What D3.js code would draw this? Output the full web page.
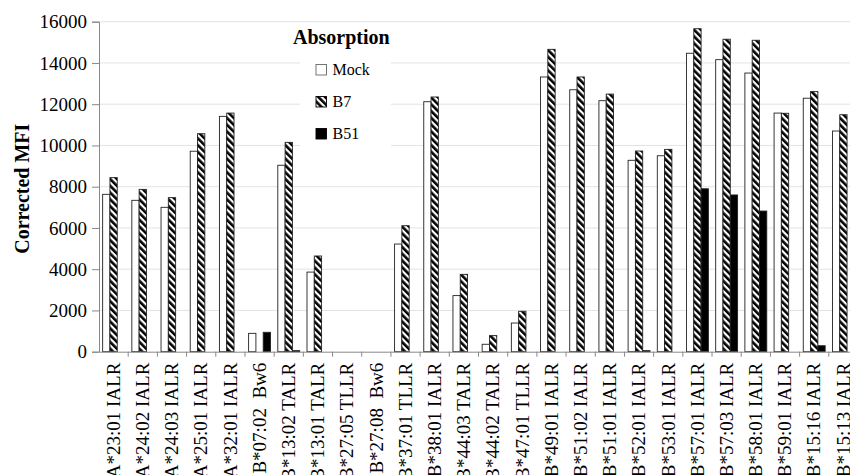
<!DOCTYPE html>
<html>
<head>
<meta charset="utf-8">
<script src="https://cdn.jsdelivr.net/npm/d3@7"></script>
<style>
  body { margin: 0; background: #fff; }
  svg { display: block; }
  svg text { font-family: "Liberation Serif", "Times New Roman", serif; }
</style>
</head>
<body>
<svg id="chart" width="850" height="475"></svg>
<script>
// Data
const categories = [
  "A*23:01 IALR", "A*24:02 IALR", "A*24:03 IALR", "A*25:01 IALR", "A*32:01 IALR",
  "B*07:02\u00a0\u00a0Bw6", "B*13:02 TALR", "B*13:01 TALR", "B*27:05 TLLR", "B*27:08\u00a0\u00a0Bw6",
  "B*37:01 TLLR", "B*38:01 IALR", "B*44:03 TALR", "B*44:02 TALR", "B*47:01 TLLR",
  "B*49:01 IALR", "B*51:02 IALR", "B*51:01 IALR", "B*52:01 IALR", "B*53:01 IALR",
  "B*57:01 IALR", "B*57:03 IALR", "B*58:01 IALR", "B*59:01 IALR", "B*15:16 IALR", "B*15:13 IALR"
];
const mock = [7630, 7340, 7000, 9720, 11410, 890, 9040, 3860, 0, 0,
  5220, 12120, 2720, 360, 1390, 13320, 12700, 12170, 9280, 9500,
  14470, 14160, 13510, 11570, 12290, 10700];
const b7 = [8440, 7870, 7470, 10570, 11570, 0, 10150, 4640, 0, 0,
  6110, 12350, 3750, 780, 1960, 14660, 13320, 12490, 9730, 9810,
  15660, 15150, 15100, 11560, 12610, 11490];
const b51 = [0, 0, 0, 0, 0, 940, 50, 0, 0, 0,
  0, 0, 0, 0, 0, 0, 0, 0, 50, 0,
  7900, 7600, 6820, 0, 290, 0];
const seriesNames = ["Mock", "B7", "B51"];
const yTickValues = [0, 2000, 4000, 6000, 8000, 10000, 12000, 14000, 16000];

const serif = "'Liberation Serif', 'Times New Roman', serif";
const svg = d3.select("#chart");
const plotLeft = 99, plotRight = 858, plotTop = 21.7, plotBottom = 351.7;

// hatch pattern for B7
const defs = svg.append("defs");
defs.append("pattern")
    .attr("id", "hatch")
    .attr("patternUnits", "userSpaceOnUse")
    .attr("width", 4.8)
    .attr("height", 4.8)
    .attr("patternTransform", "rotate(-45)")
  .call(p => {
    p.append("rect").attr("width", 4.8).attr("height", 4.8).attr("fill", "#fff");
    p.append("rect").attr("width", 2.6).attr("height", 4.8).attr("fill", "#000");
  });

const fills = { "Mock": "#fff", "B7": "url(#hatch)", "B51": "#000" };

const x0 = d3.scaleBand().domain(categories).range([plotLeft, plotRight]).padding(0);
const x1 = d3.scaleBand().domain(seriesNames).range([0, x0.bandwidth()])
    .paddingInner(0).paddingOuter(0.5);
const y = d3.scaleLinear().domain([0, 16000]).range([plotBottom, plotTop]);

// gridlines
svg.append("g")
  .selectAll("line")
  .data(yTickValues.filter(d => d > 0))
  .join("line")
    .attr("x1", plotLeft).attr("x2", plotRight)
    .attr("y1", d => y(d)).attr("y2", d => y(d))
    .attr("stroke", "#e3e3e3")
    .attr("stroke-width", 1);

// bars
const rows = categories.map((c, i) => ({ cat: c, values: [
  { key: "Mock", v: mock[i] }, { key: "B7", v: b7[i] }, { key: "B51", v: b51[i] }
] }));

svg.append("g")
  .selectAll("g")
  .data(rows)
  .join("g")
    .attr("transform", d => `translate(${x0(d.cat)},0)`)
  .selectAll("rect")
  .data(d => d.values.filter(s => s.v > 0))
  .join("rect")
    .attr("x", d => x1(d.key))
    .attr("y", d => y(d.v))
    .attr("width", x1.bandwidth())
    .attr("height", d => Math.max(1, plotBottom - y(d.v)))
    .attr("fill", d => fills[d.key])
    .attr("stroke", "#222")
    .attr("stroke-width", 0.9);

// y axis
const yAxis = svg.append("g")
    .attr("transform", `translate(${plotLeft},0)`)
    .call(d3.axisLeft(y).tickValues(yTickValues).tickSize(7).tickPadding(5).tickFormat(d3.format("d")));
yAxis.attr("font-family", serif);
yAxis.select(".domain").attr("stroke", "#888");
yAxis.selectAll(".tick line").attr("stroke", "#888");
yAxis.selectAll("text")
    .attr("font-size", 19)
    .attr("fill", "#000");

// x axis
const xAxis = svg.append("g")
    .attr("transform", `translate(0,${plotBottom})`)
    .call(d3.axisBottom(x0).tickSize(0).tickPadding(0));
xAxis.attr("font-family", serif);
xAxis.select(".domain").attr("stroke", "#888");
xAxis.selectAll("text")
    .attr("font-size", 19)
    .attr("fill", "#000")
    .attr("transform", "rotate(-90)")
    .attr("text-anchor", "end")
    .attr("x", -11)
    .attr("y", 0)
    .attr("dy", "0.33em");

// tick marks between categories
svg.append("g")
  .selectAll("line")
  .data(categories.slice(1))
  .join("line")
    .attr("x1", d => x0(d)).attr("x2", d => x0(d))
    .attr("y1", plotBottom).attr("y2", plotBottom + 5)
    .attr("stroke", "#888");

// y title
svg.append("text")
    .attr("transform", `translate(29,${(plotTop + plotBottom) / 2 + 2}) rotate(-90)`)
    .attr("text-anchor", "middle")
    .attr("font-family", serif)
    .attr("font-size", 20)
    .attr("font-weight", "bold")
    .text("Corrected MFI");

// legend
svg.append("rect")
    .attr("x", 300).attr("y", 52).attr("width", 91).attr("height", 98)
    .attr("fill", "#fff");
svg.append("text")
    .attr("x", 293).attr("y", 44)
    .attr("font-family", serif)
    .attr("font-size", 20)
    .attr("font-weight", "bold")
    .text("Absorption");

const legend = svg.append("g")
  .selectAll("g")
  .data(seriesNames)
  .join("g")
    .attr("transform", (d, i) => `translate(316,${64.5 + i * 32})`);
legend.append("rect")
    .attr("width", 10.5).attr("height", 10.5)
    .attr("fill", d => fills[d])
    .attr("stroke", d => d === "Mock" ? "#666" : "#000")
    .attr("stroke-width", 0.9);
legend.append("text")
    .attr("x", 16.5).attr("y", 10)
    .attr("font-family", serif)
    .attr("font-size", 16)
    .text(d => d);
</script>
</body>
</html>
